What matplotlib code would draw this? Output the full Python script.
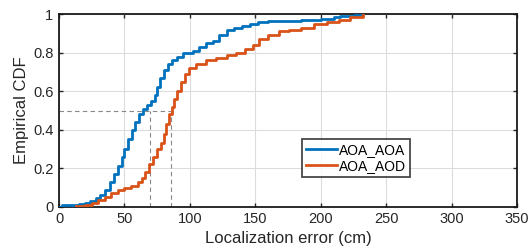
import numpy as np
import matplotlib.pyplot as plt

plt.rcParams['font.family'] = ['Liberation Sans', 'DejaVu Sans']

# empirical CDF knots (error in cm, cumulative fraction)
aoa_x = [0, 2, 15, 20, 24, 28, 31, 35, 39, 42, 45, 48, 50, 53, 56, 58, 61, 64, 67, 70,
         73, 75, 77, 80, 83, 86, 90, 95, 102, 107, 112, 118, 122, 128, 134, 140, 146,
         152, 160, 185, 200, 210, 215, 225, 232]
aoa_f = [0.0, 0.01, 0.015, 0.02, 0.03, 0.045, 0.06, 0.09, 0.13, 0.17, 0.21, 0.26, 0.30,
         0.35, 0.40, 0.44, 0.48, 0.51, 0.53, 0.55, 0.58, 0.62, 0.67, 0.71, 0.74, 0.76,
         0.78, 0.80, 0.81, 0.83, 0.85, 0.86, 0.89, 0.92, 0.93, 0.94, 0.95, 0.96, 0.965,
         0.97, 0.975, 0.985, 0.99, 0.995, 1.0]

aod_x = [13, 20, 25, 30, 35, 40, 45, 50, 55, 60, 63, 66, 69, 72, 75, 78, 80, 82, 84, 86,
         88, 90, 93, 96, 99, 105, 112, 120, 128, 135, 142, 148, 153, 160, 168, 176, 185,
         195, 205, 214, 222, 232]
aod_f = [0.005, 0.01, 0.02, 0.035, 0.05, 0.07, 0.09, 0.10, 0.11, 0.13, 0.15, 0.18, 0.22,
         0.26, 0.30, 0.33, 0.38, 0.43, 0.48, 0.52, 0.56, 0.60, 0.65, 0.69, 0.72, 0.74,
         0.76, 0.77, 0.79, 0.80, 0.82, 0.84, 0.87, 0.89, 0.91, 0.92, 0.93, 0.95, 0.96,
         0.97, 0.985, 1.0]

median_aoa = 69.5
median_aod = 85.5

fig = plt.figure(figsize=(5.32, 2.52), dpi=100)
ax = fig.add_axes([0.111, 0.179, 0.861, 0.765])

ax.plot(aoa_x, aoa_f, drawstyle='steps-post', color='#0072BD', lw=2, label='AOA_AOA', zorder=3)
ax.plot(aod_x, aod_f, drawstyle='steps-post', color='#D95319', lw=2, label='AOA_AOD', zorder=3)

# median markers
dash = dict(color='#888888', lw=0.8, ls=(0, (4, 3)), zorder=2)
ax.plot([0, median_aod], [0.5, 0.5], **dash)
ax.plot([median_aoa, median_aoa], [0, 0.5], **dash)
ax.plot([median_aod, median_aod], [0, 0.5], **dash)

ax.set_xlim(0, 350)
ax.set_ylim(0, 1)
ax.set_xticks(np.arange(0, 351, 50))
ax.set_yticks([0, 0.2, 0.4, 0.6, 0.8, 1])
ax.set_yticklabels(['0', '0.2', '0.4', '0.6', '0.8', '1'])
ax.grid(True, color='#dcdcdc', lw=0.8)
ax.set_axisbelow(True)
ax.tick_params(direction='in', top=True, right=True, length=3, width=1,
               labelsize=10.5, colors='#262626', pad=4)
for s in ax.spines.values():
    s.set_linewidth(1.3)
    s.set_color('#1a1a1a')

ax.set_xlabel('Localization error (cm)', fontsize=12, color='#262626', labelpad=3)
ax.set_ylabel('Empirical CDF', fontsize=12, color='#262626', labelpad=3)

leg = ax.legend(loc='lower left', bbox_to_anchor=(0.53, 0.155), fontsize=10,
                frameon=True, fancybox=False, handlelength=2.2, handletextpad=0.2,
                borderpad=0.3, labelspacing=0.15, borderaxespad=0)
leg.get_frame().set_edgecolor('#1a1a1a')
leg.get_frame().set_linewidth(1.3)

fig.savefig('out.png', dpi=100)
